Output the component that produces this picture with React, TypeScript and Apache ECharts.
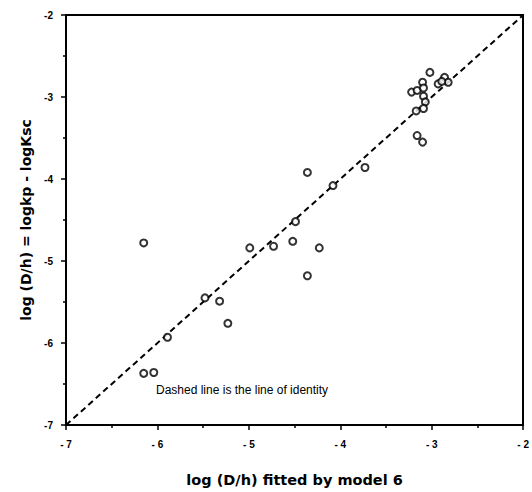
import React, { useEffect, useRef } from "react";
import * as echarts from "echarts";

const xTicks = [-7, -6, -5, -4, -3, -2];
const yTicks = [-7, -6, -5, -4, -3, -2];
const fittedX = [
  -6.15, -4.36, -4.08, -4.49, -4.99, -4.73, -4.52, -4.23, -4.36, -5.48, -5.32, -5.23, -5.89, -6.15, -6.04,
  -3.73, -3.16, -3.10, -3.02, -3.22, -3.16, -3.10, -3.09, -3.09, -3.07, -3.09, -3.17, -2.93, -2.86, -2.82, -2.89,
];
const observedY = [
  -4.78, -3.92, -4.08, -4.52, -4.84, -4.82, -4.76, -4.84, -5.18, -5.45, -5.49, -5.76, -5.93, -6.37, -6.36,
  -3.86, -3.47, -3.55, -2.70, -2.94, -2.92, -2.82, -2.89, -2.99, -3.06, -3.14, -3.17, -2.84, -2.76, -2.82, -2.81,
];
const identityLine = [
  [-7, -7],
  [-2, -2],
];
const note = "Dashed line is the line of identity";
const xName = "log (D/h) fitted by model 6";
const yName = "log (D/h) = logkp - logKsc";

export default function App() {
  const ref = useRef<HTMLDivElement>(null);
  useEffect(() => {
    if (!ref.current) return;
    const chart = echarts.init(ref.current, undefined, { renderer: "svg" });
    const font = "'Liberation Sans', Arial, sans-serif";
    const nameFont = "'DejaVu Sans', 'Liberation Sans', sans-serif";
    const mirror = (pos: string) => ({
      type: "value",
      position: pos,
      min: -7,
      max: -2,
      interval: 1,
      axisLine: { show: true, onZero: false, lineStyle: { color: "#000", width: 2 } },
      axisTick: { show: false },
      axisLabel: { show: false },
      splitLine: { show: false },
    });
    chart.setOption({
      animation: false,
      backgroundColor: "#fff",
      grid: { left: 66, right: 5, top: 15, bottom: 65 },
      xAxis: [
        {
          type: "value",
          min: xTicks[0],
          max: xTicks[xTicks.length - 1],
          interval: 1,
          name: xName,
          nameLocation: "middle",
          nameGap: 47,
          nameTextStyle: { fontFamily: nameFont, fontWeight: "bold", fontSize: 14.5, color: "#000" },
          axisLine: { onZero: false, lineStyle: { color: "#000", width: 2 } },
          axisTick: { show: true, length: 5, lineStyle: { color: "#000", width: 1.5 } },
          minorTick: { show: true, splitNumber: 2, length: 3, lineStyle: { color: "#000", width: 1.5 } },
          splitLine: { show: false },
          axisLabel: {
            fontFamily: font,
            fontWeight: "bold",
            fontSize: 10,
            color: "#000",
            margin: 14,
            formatter: (v: number) => "- " + Math.abs(v),
          },
        },
        mirror("top"),
      ],
      yAxis: [
        {
          type: "value",
          min: yTicks[0],
          max: yTicks[yTicks.length - 1],
          interval: 1,
          name: yName,
          nameLocation: "middle",
          nameGap: 21,
          nameTextStyle: { fontFamily: nameFont, fontWeight: "bold", fontSize: 14, color: "#000" },
          axisLine: { onZero: false, lineStyle: { color: "#000", width: 2 } },
          axisTick: { show: true, length: 5, lineStyle: { color: "#000", width: 1.5 } },
          minorTick: { show: true, splitNumber: 2, length: 3, lineStyle: { color: "#000", width: 1.5 } },
          splitLine: { show: false },
          axisLabel: {
            fontFamily: font,
            fontWeight: "bold",
            fontSize: 10,
            color: "#000",
            margin: 13,
          },
        },
        mirror("right"),
      ],
      series: [
        {
          type: "line",
          data: identityLine,
          symbol: "none",
          lineStyle: { color: "#000", width: 2, type: [6, 4] },
          silent: true,
          z: 1,
        },
        {
          type: "scatter",
          data: fittedX.map((x, i) => [x, observedY[i]]),
          symbol: "circle",
          symbolSize: 7,
          itemStyle: { color: "#fff", borderColor: "#000", borderWidth: 2 },
          z: 3,
        },
      ],
      graphic: [
        {
          type: "text",
          left: 156,
          top: 384,
          style: { text: note, fontFamily: font, fontSize: 12, fill: "#000" },
        },
      ],
    });
    return () => chart.dispose();
  }, []);
  return (
    <div
      ref={ref}
      style={{ position: "absolute", left: 0, top: 0, width: 532, height: 492 }}
    />
  );
}
